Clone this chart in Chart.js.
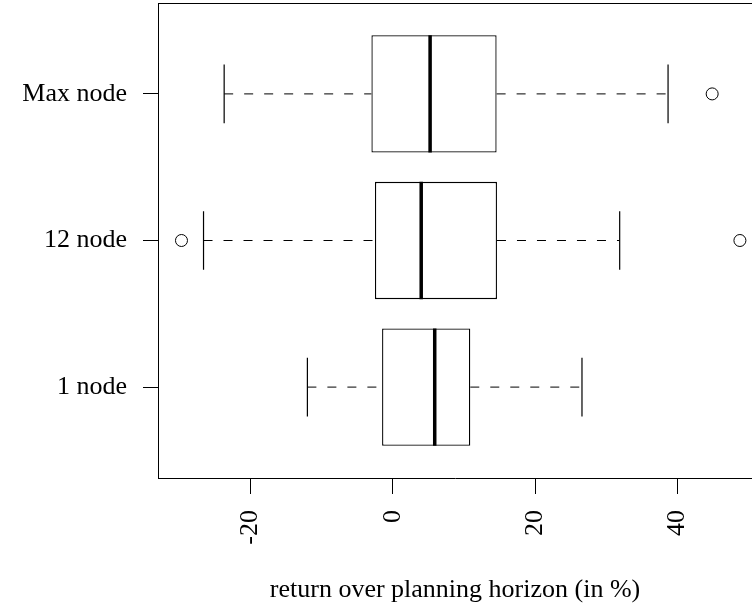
<!DOCTYPE html>
<html>
<head>
<meta charset="utf-8">
<script src="https://cdn.jsdelivr.net/npm/chart.js@4"></script>
<style>
  html, body { margin: 0; padding: 0; background: #fff; }
  #wrap { width: 752px; height: 610px; position: relative; }
</style>
</head>
<body>
<div id="wrap"><canvas id="chart"></canvas></div>
<script>
// values (return over planning horizon, %)
const categories = ['1 node', '12 node', 'Max node'];
const lowerWhisker = [-12.0, -26.6, -23.7];
const q1 = [-1.5, -2.5, -3.0];
const median = [5.9, 4.0, 5.25];
const q3 = [10.9, 14.65, 14.6];
const upperWhisker = [26.6, 31.9, 38.7];
const outliers = [[], [-29.7, 48.8], [44.9]];
const xTicks = [-20, 0, 20, 40];

const FONT = { family: '"Liberation Serif", "Times New Roman", serif', size: 26 };
const gap = { x: null, y: null };

// build point lists for the library from the arrays above
const boxes = categories.map((c, i) => ({ x: [q1[i], q3[i]], y: i + 1 }));
const whiskers = [];
const staples = [];
const medians = [];
const outlierPts = [];
categories.forEach((c, i) => {
  const y = i + 1;
  whiskers.push({ x: lowerWhisker[i], y }, { x: q1[i], y }, gap,
                { x: q3[i], y }, { x: upperWhisker[i], y }, gap);
  staples.push({ x: lowerWhisker[i], y: y - 0.2 }, { x: lowerWhisker[i], y: y + 0.2 }, gap,
               { x: upperWhisker[i], y: y - 0.2 }, { x: upperWhisker[i], y: y + 0.2 }, gap);
  medians.push({ x: median[i], y: y - 0.4 }, { x: median[i], y: y + 0.4 }, gap);
  outliers[i].forEach(v => outlierPts.push({ x: v, y }));
});

// top edge of the plot frame
const frameTop = {
  id: 'frameTop',
  afterDraw(chart) {
    const { ctx, chartArea: a } = chart;
    ctx.save();
    ctx.strokeStyle = '#000';
    ctx.lineWidth = 1;
    ctx.beginPath();
    ctx.moveTo(a.left, a.top + 0.5);
    ctx.lineTo(a.right, a.top + 0.5);
    ctx.stroke();
    ctx.restore();
  }
};

function noPad(s) {
  s.paddingTop = 0; s.paddingBottom = 0; s.paddingLeft = 0; s.paddingRight = 0;
}

new Chart(document.getElementById('chart'), {
  type: 'bar',
  data: {
    datasets: [
      {
        type: 'line', data: medians, order: 0,
        borderColor: '#000', borderWidth: 3.5, pointRadius: 0, spanGaps: false
      },
      {
        type: 'bar', indexAxis: 'y', data: boxes, order: 5,
        backgroundColor: '#fff', borderColor: '#000', borderWidth: 1.3,
        borderSkipped: false, barPercentage: 1, categoryPercentage: 0.8
      },
      {
        type: 'line', data: whiskers, order: 6,
        borderColor: '#000', borderWidth: 1, borderDash: [9, 11],
        pointRadius: 0, spanGaps: false
      },
      {
        type: 'line', data: staples, order: 6,
        borderColor: '#000', borderWidth: 1.2, pointRadius: 0, spanGaps: false
      },
      {
        type: 'line', data: outlierPts, order: 1, showLine: false,
        pointRadius: 6, pointBorderWidth: 1, pointBorderColor: '#000',
        pointBackgroundColor: 'rgba(0,0,0,0)'
      }
    ]
  },
  options: {
    responsive: true,
    maintainAspectRatio: false,
    animation: false,
    layout: { autoPadding: false, padding: { top: 3, left: 0, right: 0, bottom: 0 } },
    plugins: { legend: { display: false }, tooltip: { enabled: false } },
    scales: {
      x: {
        type: 'linear',
        min: -33,
        max: 50.5,
        offset: false,
        afterBuildTicks: s => { s.ticks = xTicks.map(v => ({ value: v })); },
        afterFit: s => { s.height = 132; noPad(s); },
        grid: { display: true, offset: false, drawOnChartArea: false, tickLength: 16, color: '#000', tickColor: '#000' },
        border: { display: true, color: '#000', width: 1 },
        ticks: {
          font: FONT, color: '#000', padding: 16,
          minRotation: 90, maxRotation: 90, autoSkip: false,
          callback: v => String(v)
        },
        title: {
          display: true, text: 'return over planning horizon (in %)',
          font: FONT, color: '#000', padding: { top: 0, bottom: 4 }
        }
      },
      y: {
        type: 'linear',
        min: 0.38,
        max: 3.62,
        offset: false,
        afterBuildTicks: s => { s.ticks = categories.map((c, i) => ({ value: i + 1 })); },
        afterFit: s => { s.width = 158; noPad(s); },
        grid: { display: true, offset: false, drawOnChartArea: false, tickLength: 15, color: '#000', tickColor: '#000' },
        border: { display: true, color: '#000', width: 1 },
        ticks: {
          font: FONT, color: '#000', padding: 16, autoSkip: false,
          callback: v => categories[Math.round(v) - 1]
        }
      }
    }
  },
  plugins: [frameTop]
});
</script>
</body>
</html>
